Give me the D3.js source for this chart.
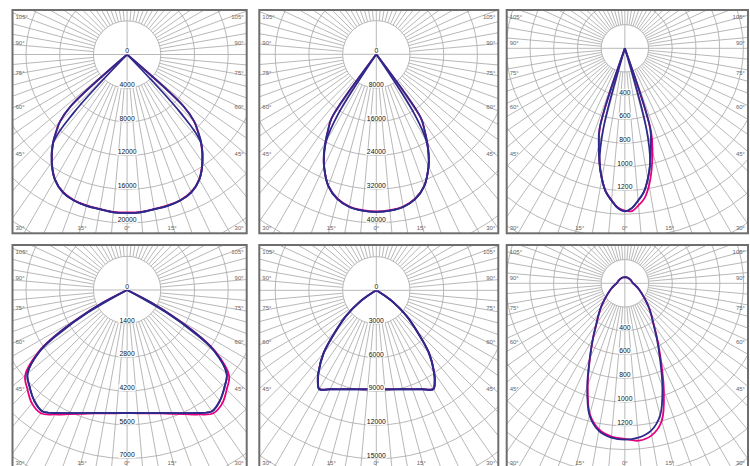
<!DOCTYPE html>
<html>
<head>
<meta charset="utf-8">
<script src="https://cdn.jsdelivr.net/npm/d3@7"></script>
<style>
  body { margin: 0; background: #fff; }
  svg { display: block; }
  .lbl { opacity: 0.999; }
</style>
</head>
<body>
<svg id="chart"></svg>
<script>
// intensity readings (cd), gamma in degrees from nadir, one half of each curve
const p1Gamma = [0, 5, 10, 15, 20, 25, 30, 35, 40, 42.5, 45, 47.5, 50];
const p1Blue = [18800, 18800, 18650, 18600, 18450, 18050, 17150, 15600, 13700, 12500, 11300, 9100, 0];
const p1Blue2 = [18800, 18800, 18650, 18600, 18450, 18050, 17150, 15600, 13600, 9400, 0];
const p1Pink = [18750, 18750, 18600, 18550, 18400, 18000, 17100, 15550, 13650, 12450, 11250, 9050, 0];

const p2Gamma = [0, 5, 10, 15, 20, 25, 27.5, 30, 32.5, 35, 37.5];
const p2Blue = [37400, 37250, 36800, 35600, 33300, 29400, 27000, 24200, 21300, 18500, 0];
const p2Blue2 = [37400, 37250, 36800, 35600, 33300, 29300, 26800, 23800, 17100, 0];
const p2Pink = [37300, 37150, 36700, 35500, 33250, 29350, 26950, 24150, 21250, 18400, 0];

const p3Gamma = [0, 2.5, 5, 7.5, 10, 12.5, 15, 17.5, 20];
const p3Blue = [1375, 1350, 1290, 1225, 1120, 990, 850, 710, 0];
const p3Blue2 = [1375, 1350, 1290, 1225, 1115, 985, 700, 0];
const p3PinkL = [1370, 1345, 1285, 1220, 1115, 985, 845, 700, 0];
const p3PinkR = [1385, 1375, 1330, 1275, 1175, 1045, 900, 735, 0];

const p4Gamma = [0, 5, 10, 15, 20, 25, 30, 35, 40, 45, 50, 55, 57.5, 60, 62.5, 65];
const p4Blue = [5110, 5130, 5190, 5290, 5440, 5640, 5900, 6150, 6000, 5720, 5400, 4450, 3530, 2240, 1150, 0];
const p4Blue2 = [5110, 5130, 5190, 5290, 5440, 5640, 5900, 6150, 6000, 5720, 5400, 4400, 3300, 1900, 0];
const p4Pink = [5110, 5140, 5200, 5310, 5470, 5690, 5970, 6250, 6150, 5850, 5530, 4500, 3550, 2250, 1150, 0];

const p5Gamma = [0, 5, 10, 15, 20, 25, 30, 32.5, 35, 40, 45, 50, 55, 57.5, 60];
const p5Blue = [8810, 8850, 8950, 9120, 9380, 9720, 10170, 9700, 9010, 7330, 5100, 3500, 1850, 1000, 0];
const p5Blue2 = [8810, 8850, 8950, 9120, 9380, 9720, 10150, 9650, 8950, 7250, 5000, 3350, 1650, 0];
const p5Pink = [8800, 8840, 8940, 9110, 9370, 9710, 10150, 9690, 9000, 7320, 5090, 3490, 1840, 990, 0];

const p6Gamma = [0, 5, 10, 15, 20, 25, 30, 35, 40, 45, 50, 55, 60, 70, 80, 90, 100, 120, 150, 180];
const p6Blue = [1317, 1305, 1262, 1150, 925, 700, 540, 420, 345, 285, 232, 190, 160, 118, 88, 70, 62, 56, 53, 53];
const p6PinkL = [1310, 1295, 1250, 1140, 915, 695, 535, 416, 342, 283, 230, 189, 159, 117, 87, 69, 61, 55, 52, 52];
const p6PinkR = [1327, 1330, 1300, 1200, 960, 720, 548, 424, 347, 286, 233, 191, 160, 118, 88, 70, 62, 56, 53, 53];

// ring steps and which ring labels are printed
const ringSteps = [4000, 8000, 200, 1400, 3000, 200];
const firstLabelRing = [0, 0, 2, 0, 0, 2];
const lastLabelRing = [5, 5, 6, 5, 5, 6];

const sideAngles = [105, 90, 75, 60, 45];
const bottomAngles = [15, 0, 15];

let width = 750;
let height = 466;
let blue = '#2d2a8c';
let pink = '#e6007e';
let gridColor = '#ababab';

let svg = d3.select('#chart').attr('width', width).attr('height', height);

let colLeft = [12.5, 259.3, 506.7];
let colRight = [246.7, 498.3, 748];
let rowTop = [10, 245];
let rowBottom = [233.3, 468];

let panels = [
  { col: 0, row: 0, cy: 44.5, px: 33.7, gamma: p1Gamma, curves: [[p1Pink, p1Pink, pink], [p1Blue2, p1Blue2, blue], [p1Blue, p1Blue, blue]] },
  { col: 1, row: 0, cy: 44.3, px: 33.7, gamma: p2Gamma, curves: [[p2Pink, p2Pink, pink], [p2Blue2, p2Blue2, blue], [p2Blue, p2Blue, blue]] },
  { col: 2, row: 0, cy: 38.3, px: 23.7, gamma: p3Gamma, curves: [[p3PinkL, p3PinkR, pink], [p3Blue2, p3Blue2, blue], [p3Blue, p3Blue, blue]] },
  { col: 0, row: 1, cy: 45, px: 33.7, gamma: p4Gamma, curves: [[p4Pink, p4Pink, pink], [p4Blue2, p4Blue2, blue], [p4Blue, p4Blue, blue]] },
  { col: 1, row: 1, cy: 45.3, px: 33.7, gamma: p5Gamma, curves: [[p5Pink, p5Pink, pink], [p5Blue2, p5Blue2, blue], [p5Blue, p5Blue, blue]] },
  { col: 2, row: 1, cy: 38.3, px: 23.75, gamma: p6Gamma, curves: [[p6PinkL, p6PinkR, pink], [p6Blue, p6Blue, blue]] }
];

// gamma 0 points down, positive gamma to the right
let angleScale = d3.scaleLinear().domain([-180, 180]).range([2 * Math.PI, 0]);
let rad = (deg) => deg * Math.PI / 180;

let drawPanel = (p, i) => {
  let x0 = colLeft[p.col], x1 = colRight[p.col];
  let y0 = rowTop[p.row], y1 = rowBottom[p.row];
  let cx = (x0 + x1) / 2 - 2.5;
  let cy = y0 + p.cy;
  let step = ringSteps[i];

  let rScale = d3.scaleLinear().domain([0, step]).range([0, p.px]);

  let clipId = 'clip' + i;
  svg.append('clipPath').attr('id', clipId)
    .append('rect').attr('x', x0).attr('y', y0).attr('width', x1 - x0).attr('height', y1 - y0);

  let g = svg.append('g').attr('clip-path', 'url(#' + clipId + ')');
  let c = g.append('g').attr('transform', 'translate(' + cx + ',' + cy + ')');

  // rings
  c.selectAll('circle.ring')
    .data(d3.range(1, 14))
    .enter().append('circle')
    .attr('class', 'ring')
    .attr('r', (k) => rScale(k * step))
    .attr('fill', 'none')
    .attr('stroke', gridColor)
    .attr('stroke-width', 0.85);

  // radial lines every 5 degrees
  c.selectAll('line.spoke')
    .data(d3.range(0, 360, 5))
    .enter().append('line')
    .attr('class', 'spoke')
    .attr('x1', (a) => (a % 90 === 0 ? 0 : rScale(step)) * Math.sin(rad(a)))
    .attr('y1', (a) => (a % 90 === 0 ? 0 : rScale(step)) * Math.cos(rad(a)))
    .attr('x2', (a) => 600 * Math.sin(rad(a)))
    .attr('y2', (a) => 600 * Math.cos(rad(a)))
    .attr('stroke', gridColor)
    .attr('stroke-width', 0.85);

  // curves
  let line = d3.lineRadial()
    .angle((d) => angleScale(d.g))
    .radius((d) => rScale(d.v))
    .curve(d3.curveCatmullRom.alpha(0.5));

  p.curves.forEach(([left, right, color]) => {
    let pts = [];
    for (let j = left.length - 1; j >= 0; j--) pts.push({ g: -p.gamma[j], v: left[j] });
    for (let j = 1; j < right.length; j++) pts.push({ g: p.gamma[j], v: right[j] });
    c.append('path')
      .attr('d', line(pts))
      .attr('fill', 'none')
      .attr('stroke', color)
      .attr('stroke-width', 1.8)
      .attr('stroke-linejoin', 'round');
  });

  // ring labels on a white patch
  let labels = c.selectAll('g.ringLabel')
    .data(d3.range(firstLabelRing[i], lastLabelRing[i] + 1))
    .enter().append('g')
    .attr('class', 'ringLabel lbl')
    .attr('transform', (k) => 'translate(0,' + (rScale(k * step) - 3.5) + ')');
  labels.append('rect')
    .attr('x', (k) => -d3.format('d')(k * step).length * 1.9 - 1)
    .attr('y', -3.3)
    .attr('width', (k) => d3.format('d')(k * step).length * 3.8 + 2)
    .attr('height', 6.6)
    .attr('fill', '#fff');
  labels.append('text')
    .attr('text-anchor', 'middle')
    .attr('dy', '0.35em')
    .attr('font-family', 'Liberation Sans, Arial, sans-serif')
    .attr('font-size', 6.8)
    .attr('fill', '#111')
    .text((k) => d3.format('d')(k * step));

  // frame
  svg.append('rect')
    .attr('x', x0).attr('y', y0)
    .attr('width', x1 - x0).attr('height', y1 - y0)
    .attr('fill', 'none')
    .attr('stroke', '#6e6e6e')
    .attr('stroke-width', 2);

  // angle labels
  let ncy = y0 + 48.7;
  let sideY = (a) => Math.max(y0 + 7.3, ncy + 111.5 / Math.tan(rad(a)) - 16);
  let lab = svg.append('g')
    .attr('class', 'lbl')
    .attr('font-family', 'Liberation Sans, Arial, sans-serif')
    .attr('font-size', 6)
    .attr('fill', '#666');

  sideAngles.forEach((a) => {
    lab.append('text').attr('x', x0 + 3).attr('y', sideY(a)).attr('dy', '0.35em').text(a + '°');
    lab.append('text').attr('x', x1 - 3).attr('y', sideY(a)).attr('dy', '0.35em').attr('text-anchor', 'end').text(a + '°');
  });
  let by = y0 + 218;
  lab.append('text').attr('x', x0 + 3).attr('y', by).attr('dy', '0.35em').text('30°');
  lab.append('text').attr('x', x1 - 3).attr('y', by).attr('dy', '0.35em').attr('text-anchor', 'end').text('30°');
  bottomAngles.forEach((a, j) => {
    let sign = j === 0 ? -1 : 1;
    lab.append('text')
      .attr('x', cx + sign * 168 * Math.tan(rad(a)))
      .attr('y', by).attr('dy', '0.35em')
      .attr('text-anchor', 'middle')
      .text(a + '°');
  });
};

panels.forEach(drawPanel);
</script>
</body>
</html>
